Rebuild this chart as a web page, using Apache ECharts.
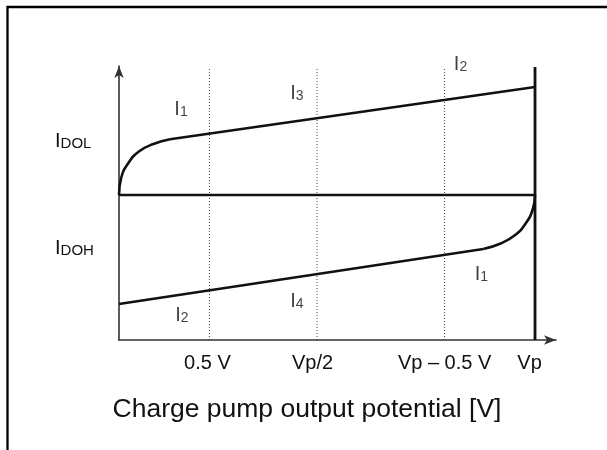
<!DOCTYPE html>
<html>
<head>
<meta charset="utf-8">
<script src="https://cdn.jsdelivr.net/npm/echarts@6/dist/echarts.min.js"></script>
<style>
html,body{margin:0;padding:0;background:#fff;}
#chart{width:607px;height:450px;}
</style>
</head>
<body>
<div id="chart"></div>
<script>
// ---- data (x in volts with Vp = 2.3, y in relative current units) ----
const xTickValues = [0.5, 1.095, 1.8, 2.3];
const xTickLabels = ['0.5 V', 'Vp/2', 'Vp – 0.5 V', 'Vp'];
const yTickValues = [54, -53];
const yTickLabels = [['I', 'DOL'], ['I', 'DOH']];
const guideXs = [0.5, 1.095, 1.8];
const guideRange = [-145, 127];
const vpLine = [[2.3, -145], [2.3, 128]];
const zeroLine = [[0, 0], [2.3, 0]];
const upperKnee = [[0, 0], [0.012, 17], [0.05, 31.5], [0.11, 43.5], [0.19, 51], [0.282, 55.7]];
const upperLine = [[0.282, 55.7], [2.3, 108]];
const lowerLine = [[0, -109], [2.014, -54]];
const lowerKnee = [[2.014, -54], [2.11, -48.5], [2.19, -40], [2.25, -28], [2.288, -14], [2.3, 0]];
const currentLabels = [
  [0.343, 86, '1'],
  [0.984, 102, '3'],
  [1.888, 131, '2'],
  [2.004, -79.5, '1'],
  [0.984, -106, '4'],
  [0.348, -120.5, '2']
];
const xAxisTitle = 'Charge pump output potential [V]';

// ---- chart ----
const FONT = "'Liberation Sans', Arial, Helvetica, sans-serif";
const INK = '#111';
const chart = echarts.init(document.getElementById('chart'), null, {renderer: 'canvas'});

const richI = {
  m: {fontSize: 20, fontFamily: FONT, color: INK, lineHeight: 20, verticalAlign: 'bottom'},
  s: {fontSize: 14, fontFamily: FONT, color: INK, lineHeight: 20, verticalAlign: 'bottom'},
  d: {fontSize: 15, fontFamily: FONT, color: INK, lineHeight: 20, verticalAlign: 'bottom'}
};
const xShift = [4, 9, 0, 11];

function solid(data, smooth) {
  return {
    type: 'line', data: data, showSymbol: false, symbol: 'none', smooth: smooth || false,
    lineStyle: {color: INK, width: 2.6}, silent: true, animation: false, z: 3
  };
}

const series = [];
guideXs.forEach(function (gx) {
  series.push({
    type: 'line', data: [[gx, guideRange[0]], [gx, guideRange[1]]], symbol: 'none',
    lineStyle: {color: '#444', width: 1, type: [1, 2]}, silent: true, animation: false, z: 1
  });
});
series.push(solid(zeroLine));
series.push(Object.assign(solid(vpLine), {lineStyle: {color: INK, width: 2.8}}));
series.push(solid(upperKnee, 0.5));
series.push(solid(upperLine));
series.push(solid(lowerLine));
series.push(solid(lowerKnee, 0.5));
series.push({
  type: 'scatter', data: currentLabels, symbolSize: 1, itemStyle: {color: 'rgba(0,0,0,0)'},
  animation: false, silent: true, z: 5, clip: false,
  label: {
    show: true, position: 'inside', align: 'center', verticalAlign: 'middle',
    formatter: function (p) { return '{m|I}{s|' + p.data[2] + '}'; },
    rich: richI
  }
});

chart.setOption({
  backgroundColor: '#fff',
  animation: false,
  grid: {left: 119, top: 66, width: 437, height: 274, containLabel: false},
  xAxis: {
    type: 'value', min: 0, max: 2.416,
    axisLine: {show: true, onZero: false, symbol: ['none', 'arrow'], symbolSize: [7, 12],
      lineStyle: {color: '#333', width: 1.6}},
    axisTick: {show: false},
    splitLine: {show: false},
    axisLabel: {
      show: true, margin: 13, customValues: xTickValues, showMinLabel: true, showMaxLabel: true,
      formatter: function (v) {
        const i = xTickValues.indexOf(v);
        return i < 0 ? '' : '{t' + i + '|' + xTickLabels[i] + '}';
      },
      rich: (function () {
        const r = {};
        xTickLabels.forEach(function (_, i) {
          r['t' + i] = {fontSize: 20, fontFamily: FONT, color: INK, padding: [0, xShift[i], 0, 0]};
        });
        return r;
      })()
    }
  },
  yAxis: {
    type: 'value', min: -145, max: 129,
    axisLine: {show: true, onZero: false, symbol: ['none', 'arrow'], symbolSize: [7, 12],
      lineStyle: {color: '#333', width: 1.6}},
    axisTick: {show: false},
    splitLine: {show: false},
    axisLabel: {
      show: true, margin: 64, align: 'left', customValues: yTickValues,
      formatter: function (v) {
        const i = yTickValues.indexOf(v);
        return i < 0 ? '' : '{m|' + yTickLabels[i][0] + '}{d|' + yTickLabels[i][1] + '}';
      },
      rich: richI
    }
  },
  graphic: [
    {type: 'rect', shape: {x: 7.5, y: 7, width: 700, height: 600}, style: {fill: 'none', stroke: '#000', lineWidth: 2.3}, z: 0, silent: true},
    {type: 'text', x: 307, y: 410, style: {text: xAxisTitle, font: '26.5px ' + FONT, fill: INK, textAlign: 'center', textVerticalAlign: 'middle'}, silent: true}
  ],
  series: series
});
</script>
</body>
</html>
